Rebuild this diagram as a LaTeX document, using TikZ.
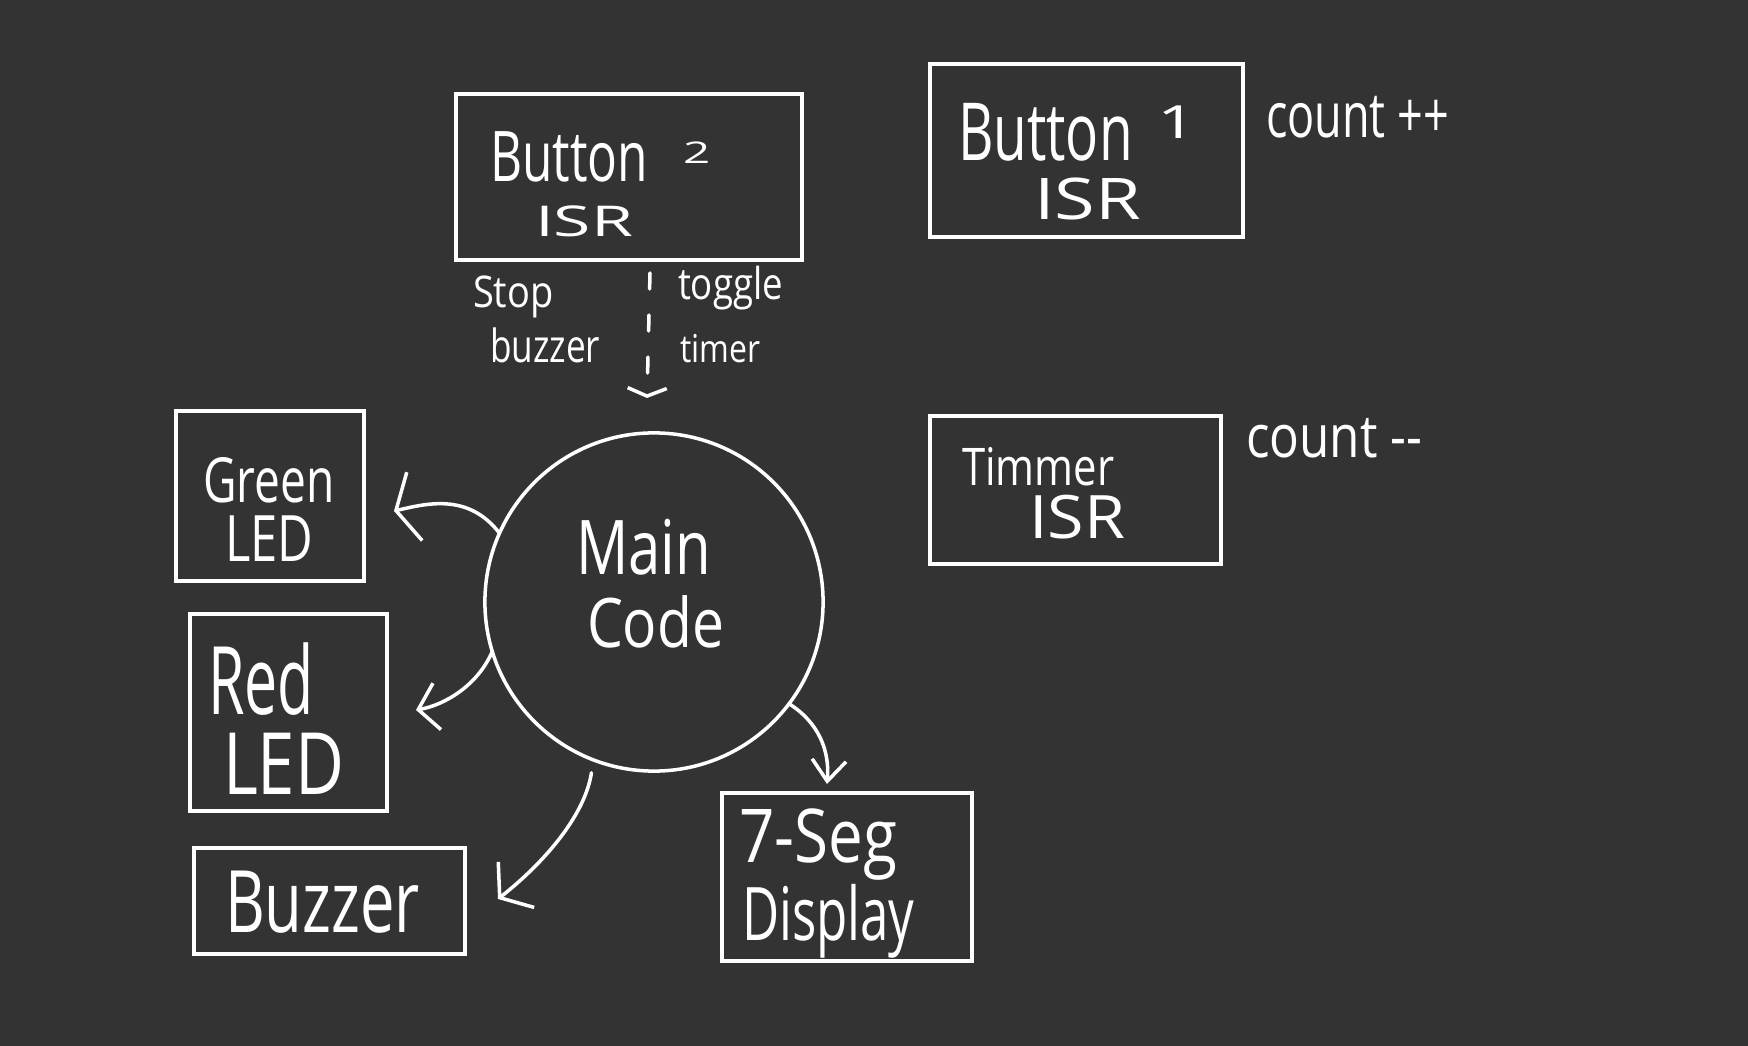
\documentclass[tikz,border=0pt]{standalone}
\usepackage{fontspec}
\setmainfont{Open Sans}
\usepackage{graphicx}
\usetikzlibrary{arrows.meta}
\definecolor{bg}{RGB}{51,51,51}
\newcommand\hw[4]{{\fontsize{#1}{#1}\selectfont\scalebox{#2}[#3]{#4}}}
\begin{document}
\begin{tikzpicture}[x=0.01cm,y=-0.01cm,
  box/.style={draw=white, line width=1pt, rectangle, inner sep=0, outer sep=0},
  lbl/.style={text=white, inner sep=0, outer sep=0, anchor=base west},
  hwarrow/.style 2 args={draw=white, line width=1pt, line cap=round, -{Straight Barb[length=#1,width=#2]}}]
\fill[bg] (0,0) rectangle (1748,1046);
\useasboundingbox (0,0) rectangle (1748,1046);

% boxes
\node[box, minimum width=3.46cm, minimum height=1.66cm] (b2) at (629,177) {};
\node[box, minimum width=3.13cm, minimum height=1.73cm] (b1) at (1086.5,150.5) {};
\node[box, minimum width=2.91cm, minimum height=1.48cm] (tm) at (1075.5,490) {};
\node[box, minimum width=1.88cm, minimum height=1.70cm] (gl) at (270,496) {};
\node[box, minimum width=1.97cm, minimum height=1.97cm] (rl) at (288.5,712.5) {};
\node[box, minimum width=2.71cm, minimum height=1.06cm] (bz) at (329.5,901) {};
\node[box, minimum width=2.50cm, minimum height=1.68cm] (sg) at (847,877) {};
\node[draw=white, line width=1pt, circle, minimum size=3.38cm, inner sep=0, outer sep=0] (main) at (654,602) {};

% labels
\node[lbl] (b2a) at (490,182) {\hw{14.1}{1}{1.41}{Button}\hspace{10pt}\raisebox{5.2pt}{\hw{10}{1.35}{0.85}{2}}};
\node[lbl] (b2b) at (535,237) {\hw{14.2}{1.36}{0.85}{ISR}};
\node[lbl] (b1a) at (958,161) {\hw{15.6}{1}{1.46}{Button}\hspace{7pt}\raisebox{6.5pt}{\hw{13}{1.5}{1}{1}}};
\node[lbl] (b1b) at (1034,220) {\hw{14.2}{1.48}{1.15}{ISR}};
\node[lbl] (cp) at (1266,138) {\hw{12.8}{1}{1.39}{count ++}};
\node[lbl] (tma) at (962,486) {\hw{11.9}{1}{1.24}{Timmer}};
\node[lbl] (tmb) at (1029,538) {\hw{14.2}{1.33}{1.2}{ISR}};
\node[lbl] (cm) at (1246,458) {\hw{14.05}{1}{1.2}{count -{}-}};
\node[lbl] (gla) at (203,503) {\hw{13.1}{1}{1.35}{Green}};
\node[lbl] (glb) at (225,561) {\hw{13.9}{1}{1.31}{LED}};
\node[lbl] (rla) at (208,714) {\hw{16.8}{1}{1.6}{Red}};
\node[lbl] (rlb) at (223,794) {\hw{19.1}{1}{1.28}{LED}};
\node[lbl] (bza) at (225,932) {\hw{17.5}{1}{1.4}{Buzzer}};
\node[lbl] (mna) at (576,574) {\hw{16.5}{1}{1.3}{Main}};
\node[lbl] (mnb) at (587,647) {\hw{16.2}{1}{1.2}{Code}};
\node[lbl] (sga) at (739,862) {\hw{17.6}{1}{1.2}{7-Seg}};
\node[lbl] (sgb) at (742,940) {\hw{14.5}{1}{1.45}{Display}};
\node[lbl] (sa) at (473,308) {\hw{10.8}{1}{1.15}{Stop}};
\node[lbl] (sb) at (490,363) {\hw{10.0}{1}{1.3}{buzzer}};
\node[lbl] (ta) at (678,300) {\hw{10.4}{1}{1.2}{toggle}};
\node[lbl] (tb) at (680,363) {\hw{9.1}{1}{1.2}{timer}};

% connectors
\coordinate (ds) at (650,273);
\coordinate (de) at (647,398);
\draw[hwarrow={0.08cm}{0.39cm}, dash pattern=on 0.16cm off 0.26cm] (ds) -- (de);

\coordinate (gt) at (394,511);
\draw[hwarrow={0.19cm}{0.7cm}] (main.156) .. controls (468,492) and (425,504) .. (gt);
\coordinate (rt) at (416,710);
\draw[hwarrow={0.19cm}{0.47cm}] (main.197) .. controls (478,685) and (445,705) .. (rt);
\coordinate (bt) at (498,899);
\draw[hwarrow={0.21cm}{0.58cm}, shorten <=0.13cm] (main.249) .. controls (585,815) and (545,862) .. (bt);
\coordinate (st) at (827,784);
\draw[hwarrow={0.21cm}{0.34cm}] (main.-37) .. controls (818,722) and (830,750) .. (st);
\end{tikzpicture}
\end{document}
